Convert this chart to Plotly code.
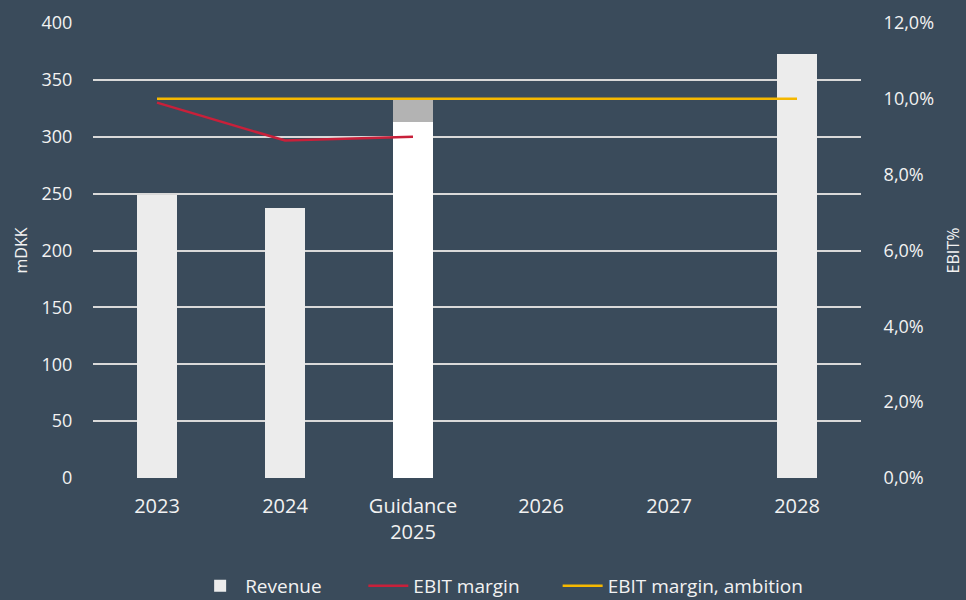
import plotly.graph_objects as go

categories = ["2023", "2024", "Guidance<br>2025", "2026", "2027", "2028"]
revenue = [249, 237, 313, None, None, 373]
guidance_range = [None, None, 20, None, None, None]
ebit_margin = [0.099, 0.089, 0.090, None, None, None]
ebit_ambition = [0.10, 0.10, 0.10, 0.10, 0.10, 0.10]

bg = "#3a4b5b"
txt = "#f2f2f2"
font = "Open Sans"

bar_colors = ["#ececec", "#ececec", "#ffffff", "#ececec", "#ececec", "#ececec"]

fig = go.Figure()
fig.add_trace(go.Bar(x=categories, y=revenue, name="Revenue",
                     marker=dict(color=bar_colors, line=dict(width=0)),
                     width=0.32, yaxis="y", legend="legend"))
fig.add_trace(go.Bar(x=categories, y=guidance_range, name="Guidance range",
                     marker=dict(color="#b3b3b3", line=dict(width=0)),
                     width=0.32, showlegend=False, yaxis="y"))
fig.add_trace(go.Scatter(x=categories, y=ebit_margin, name="EBIT margin",
                         mode="lines", line=dict(color="#c8203a", width=2.5),
                         yaxis="y2", legend="legend2"))
fig.add_trace(go.Scatter(x=categories, y=ebit_ambition, name="EBIT margin, ambition",
                         mode="lines", line=dict(color="#f5b800", width=2.5),
                         yaxis="y2", legend="legend3"))

leg_common = dict(orientation="h", xanchor="left", y=-0.237, yanchor="middle",
                  font=dict(size=19, color=txt), bgcolor="rgba(0,0,0,0)",
                  itemwidth=40)

fig.update_layout(
    width=966, height=600,
    paper_bgcolor=bg, plot_bgcolor=bg,
    barmode="stack",
    separators=",.",
    font=dict(family=font, size=18, color=txt),
    margin=dict(l=93, r=105, t=23, b=122, autoexpand=False),
    xaxis=dict(showgrid=False, zeroline=False, showline=False,
               ticks="outside", ticklen=10, tickcolor=bg, tickangle=0,
               automargin=False,
               tickfont=dict(size=20, color=txt)),
    yaxis=dict(title=dict(text="mDKK", font=dict(size=16, color=txt), standoff=9),
               range=[0, 400], dtick=50, showgrid=True, gridcolor="#d9d9d9",
               gridwidth=1.5, zeroline=False, showline=False, automargin=False,
               ticks="outside", ticklen=16, tickcolor=bg,
               tickfont=dict(size=18, color=txt)),
    yaxis2=dict(title=dict(text="EBIT%", font=dict(size=16, color=txt), standoff=14),
                overlaying="y", side="right", range=[0, 0.12], dtick=0.02,
                tickformat=".1%", showgrid=False, zeroline=False, showline=False,
                automargin=False,
                ticks="outside", ticklen=18, tickcolor=bg,
                tickfont=dict(size=18, color=txt)),
    legend=dict(x=0.133, **leg_common),
    legend2=dict(x=0.352, **leg_common),
    legend3=dict(x=0.605, **leg_common),
)

fig.write_html("out.html", config={"displayModeBar": False},
               post_script="document.body.style.margin='0';document.body.style.background='%s';" % bg)
